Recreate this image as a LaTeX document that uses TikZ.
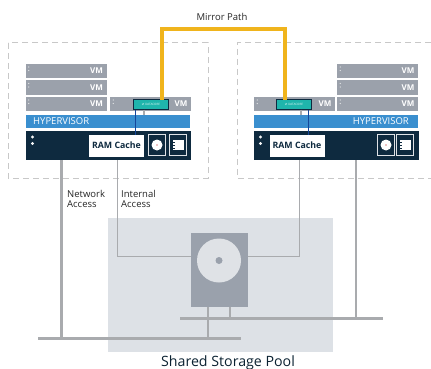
\documentclass[tikz,border=0pt]{standalone}
\usepackage{fontspec}
\setmainfont{Open Sans}
\newfontfamily\symfont{DejaVu Sans}
\definecolor{vmgray}{HTML}{9BA1AB}
\definecolor{linegray}{HTML}{A9ABAE}
\definecolor{navy}{HTML}{0E2A3F}
\definecolor{hyper}{HTML}{3A8FCF}
\definecolor{teal}{HTML}{1FB5AC}
\definecolor{mirror}{HTML}{F0B41C}
\definecolor{pool}{HTML}{DDE1E6}
\definecolor{diskgray}{HTML}{9AA1AC}
\definecolor{diskface}{HTML}{DFE2E6}
\definecolor{dashgray}{HTML}{C8C8C8}
\definecolor{wirelink}{HTML}{15479A}
\tikzset{
  hostbox/.style={draw=dashgray,line width=1pt,dash pattern=on 6pt off 4pt},
  vmbox/.style={fill=vmgray,inner sep=0pt,outer sep=0pt,minimum height=14pt,minimum width=81pt},
  hyperbar/.style={fill=hyper,inner sep=0pt,outer sep=0pt,minimum height=13.5pt,minimum width=164pt},
  darkbar/.style={fill=navy,inner sep=0pt,outer sep=0pt,minimum height=29pt,minimum width=165pt},
  rambox/.style={fill=white,text=navy,font=\bfseries\fontsize{8.8}{9}\selectfont,inner sep=0pt,outer sep=0pt,minimum height=22pt,minimum width=55pt},
  cachebox/.style={fill=teal,draw=navy,line width=.5pt,text=white!85!teal,font=\fontsize{3}{3}\selectfont,inner sep=0pt,outer sep=0pt,minimum height=10pt,minimum width=35pt},
  iconbox/.style={fill=navy,draw=diskface,line width=1pt,inner sep=0pt,outer sep=0pt,minimum height=21pt,minimum width=17pt},
  netline/.style={draw=linegray,line width=2.9pt},
  intline/.style={draw=linegray,line width=.7pt},
  mirrorline/.style={draw=mirror,line width=3.6pt,line join=miter},
  linkline/.style={draw=wirelink,line width=1pt},
  stub/.style={draw=linegray,line width=2pt},
  lbl/.style={font=\fontsize{9.5}{10}\selectfont,text=black!85,align=left,inner sep=0pt},
  vmtext/.style={font=\bfseries\fontsize{8}{8}\selectfont,text=white,anchor=east,inner sep=0pt},
  hvtext/.style={text=white,font=\fontsize{9.5}{10}\selectfont,inner sep=0pt},
}
\begin{document}
\begin{tikzpicture}[x=1pt,y=-1pt]
\useasboundingbox (0,0) rectangle (431,369);
\fill[white] (0,0) rectangle (431,369);
% pool
\node[fill=pool,inner sep=0pt,minimum width=225pt,minimum height=134pt] (poolbg) at (220.5,285) {};
% hosts
\draw[hostbox] (8,43) rectangle (208,178);
\draw[hostbox] (431,43) -- (237,43) -- (237,178) -- (431,178);
% storage disk
\node[fill=diskgray,inner sep=0pt,minimum width=57pt,minimum height=74pt] (disk) at (219.5,270) {};
\node[fill=diskface,circle,inner sep=0pt,minimum size=44pt] (platter) at (219,260.5) {};
\node[fill=diskgray,circle,inner sep=0pt,minimum size=7pt] (hub) at (219,260.5) {};
% left host
\node[vmbox] (l1) at (66,71) {}; \node[vmbox] (l2) at (66,87.5) {}; \node[vmbox] (l3) at (66,104) {};
\node[vmbox] (l4) at (150.5,104) {};
\node[hyperbar] (lh) at (108,121.5) {};
\node[darkbar] (ld) at (108.5,145.5) {};
\node[rambox] (lr) at (116.5,145.5) {RAM Cache};
\node[iconbox] (li1) at (157,145) {};
\node[iconbox] (li2) at (178,145) {};
\node[cachebox] (lc) at (151,104.5) {{\symfont ⇄} DATACORE};
% right host
\node[vmbox] (r1) at (377.5,71) {}; \node[vmbox] (r2) at (377.5,87.5) {}; \node[vmbox] (r3) at (377.5,104) {};
\node[vmbox] (r4) at (294.5,104) {};
\node[hyperbar] (rh) at (336,121.5) {};
\node[darkbar] (rd) at (336.5,145.5) {};
\node[rambox] (rr) at (297,145.5) {RAM Cache};
\node[iconbox] (ri1) at (386,145) {};
\node[iconbox] (ri2) at (405,145) {};
\node[cachebox] (rc) at (294,104.5) {{\symfont ⇄} DATACORE};
% VM labels
\foreach \n in {l1,l2,l3,l4,r1,r2,r3,r4}{\node[vmtext] at ([xshift=-3.5pt]\n.east) {VM};}
\node[hvtext,anchor=west] at ([xshift=7pt]lh.west) {HYPERVISOR};
\node[hvtext,anchor=east] at ([xshift=-9pt]rh.east) {HYPERVISOR};
% dots
\foreach \p in {l1,l2,l3,l4,r1,r2,r3,r4}{\fill[white!75!vmgray] ([shift={(3.2,3)}]\p.north west) circle (.7) ([shift={(3.2,6.5)}]\p.north west) circle (.7);}
\foreach \p in {ld,rd}{\fill[white!90!vmgray] ([shift={(6.5,6)}]\p.north west) circle (1.6) ([shift={(6.5,12.5)}]\p.north west) circle (1.6);}
% icons
\foreach \p in {li1,ri1}{\fill[white] (\p.center) circle (5.5); \fill[red!70!black] (\p.center) circle (.7);}
\foreach \p in {li2,ri2}{
  \fill[white] ([shift={(-5,-5)}]\p.center) rectangle ([shift={(5.5,5)}]\p.center);
  \fill[navy] ([shift={(-6,-3.5)}]\p.center) rectangle ([shift={(-3.5,-2.5)}]\p.center);
  \fill[navy] ([shift={(-6,-.5)}]\p.center) rectangle ([shift={(-3.5,.5)}]\p.center);
  \fill[navy] ([shift={(-6,2.5)}]\p.center) rectangle ([shift={(-3.5,3.5)}]\p.center);
}
% connectors
\coordinate (lnet) at (61.5,338.5); \coordinate (rnet) at (356,318.5);
\coordinate (lbusw) at (38,338.5); \coordinate (lbuse) at (241,338.5);
\coordinate (rbusw) at (180,318.5); \coordinate (rbuse) at (383,318.5);
\draw[netline] (lbusw) -- (lbuse);
\draw[netline] (rbusw) -- (rbuse);
\draw[netline] (ld.south -| lnet) -- (lnet);
\draw[netline] (rd.south -| rnet) -- (rnet);
\draw[netline] (disk.south -| 208,0) -- (208,338.5);
\draw[netline] (disk.south -| 230,0) -- (230,318.5);
\draw[intline] (ld.south -| 117,0) -- (117,256.5) -- (disk.west |- 0,256.5);
\draw[intline] (rd.south -| 299,0) -- (299,256.5) -- (disk.east |- 0,256.5);
\draw[stub] (lc.south -| 144,0) -- (lh.north -| 144,0);
\draw[stub] (rc.south -| 301,0) -- (rh.north -| 301,0);
\draw[linkline] (lc.south -| 135.5,0) -- (lr.north -| 135.5,0);
\draw[linkline] (rc.south -| 308,0) -- (rr.north -| 308,0);
\draw[mirrorline] (lc.north -| 162,0) -- (162,29) -- (285,29) -- (rc.north -| 285,0);
% labels
\node[lbl,anchor=center] (mp) at (222,16.5) {Mirror Path};
\node[lbl,anchor=north west] (na) at (67,190.5) {Network\\Access};
\node[lbl,anchor=north west] (ia) at (121,190.5) {Internal\\Access};
\node[font=\fontsize{14.2}{15}\selectfont,text=navy!80!black,inner sep=0pt] (sp) at (228,362.5) {Shared Storage Pool};
\end{tikzpicture}
\end{document}
